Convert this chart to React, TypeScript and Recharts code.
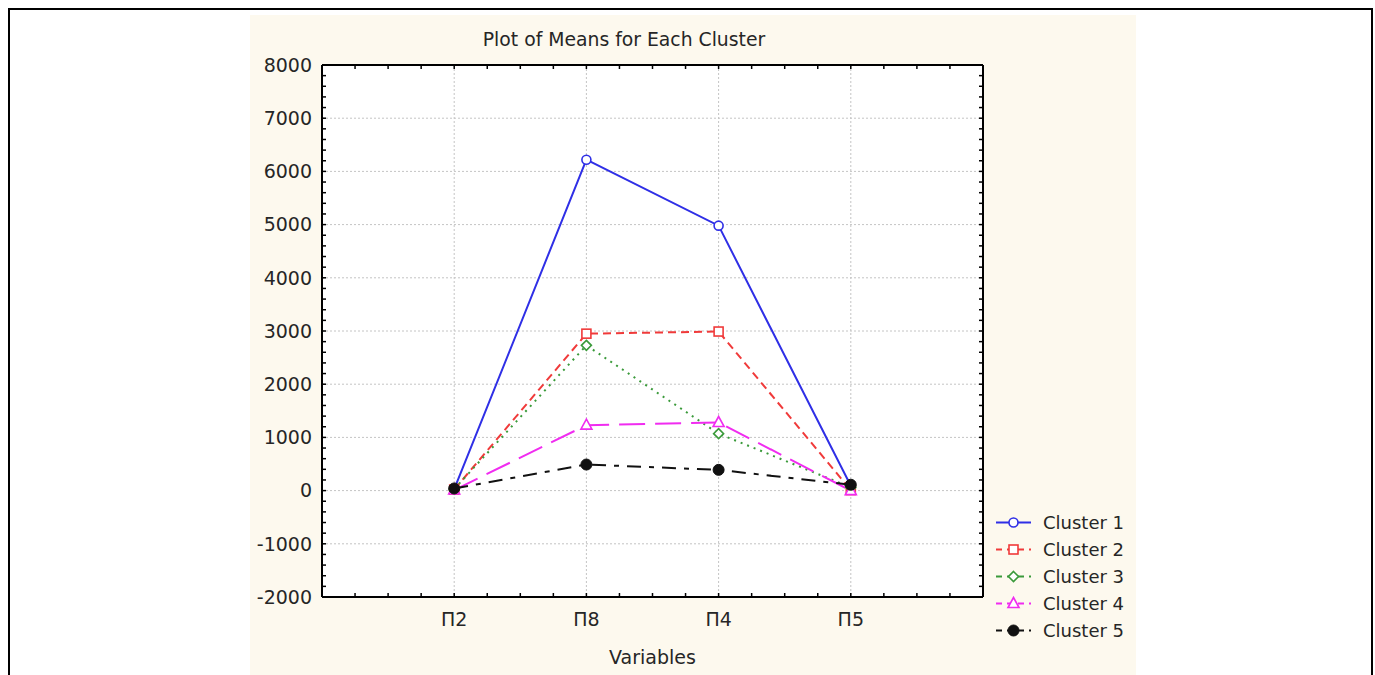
import React from "react";
import {
  LineChart,
  Line,
  XAxis,
  YAxis,
  CartesianGrid,
  Legend,
} from "recharts";

const categories = ["П2", "П8", "П4", "П5"];
const cluster1 = [30, 6220, 4980, 90];
const cluster2 = [20, 2950, 2990, 10];
const cluster3 = [30, 2730, 1070, 60];
const cluster4 = [10, 1230, 1280, 0];
const cluster5 = [40, 490, 390, 110];

const yTicks = [-2000, -1000, 0, 1000, 2000, 3000, 4000, 5000, 6000, 7000, 8000];
const xTicks = [1, 2, 3, 4];

// minor tick marks on the frame (no labels)
const xMinor = Array.from({ length: 19 }, (_, i) => (i + 1) * 0.25);
const yMinor = Array.from({ length: 49 }, (_, i) => -1800 + i * 200);

const FONT = "'DejaVu Sans', sans-serif";
const TEXT = "#262626";

type Marker = "circle" | "square" | "diamond" | "triangle" | "dot";

const series: {
  key: string;
  name: string;
  color: string;
  dash?: string;
  marker: Marker;
}[] = [
  { key: "c1", name: "Cluster 1", color: "#2f2fe6", marker: "circle" },
  { key: "c2", name: "Cluster 2", color: "#f03a3a", dash: "8 5", marker: "square" },
  { key: "c3", name: "Cluster 3", color: "#3a9a3a", dash: "2 5", marker: "diamond" },
  { key: "c4", name: "Cluster 4", color: "#f02cf0", dash: "26 10", marker: "triangle" },
  { key: "c5", name: "Cluster 5", color: "#111", dash: "14 8 5 8", marker: "dot" },
];

const data = categories.map((name, i) => ({
  pos: i + 1,
  name,
  c1: cluster1[i],
  c2: cluster2[i],
  c3: cluster3[i],
  c4: cluster4[i],
  c5: cluster5[i],
}));

function drawMarker(kind: Marker, color: string, cx: number, cy: number, key?: React.Key) {
  const sw = 1.6;
  switch (kind) {
    case "circle":
      return <circle key={key} cx={cx} cy={cy} r={4.5} fill="#fff" stroke={color} strokeWidth={sw} />;
    case "square":
      return (
        <rect key={key} x={cx - 4.5} y={cy - 4.5} width={9} height={9} fill="#fff" stroke={color} strokeWidth={sw} />
      );
    case "diamond":
      return (
        <polygon
          key={key}
          points={`${cx},${cy - 5} ${cx + 5},${cy} ${cx},${cy + 5} ${cx - 5},${cy}`}
          fill="#fff"
          stroke={color}
          strokeWidth={sw}
        />
      );
    case "triangle":
      return (
        <polygon
          key={key}
          points={`${cx},${cy - 6} ${cx + 5.5},${cy + 4} ${cx - 5.5},${cy + 4}`}
          fill="#fff"
          stroke={color}
          strokeWidth={sw}
        />
      );
    default:
      return <circle key={key} cx={cx} cy={cy} r={5.5} fill={color} stroke={color} />;
  }
}

function LegendBox() {
  return (
    <div style={{ fontFamily: FONT, fontSize: 18, color: TEXT }}>
      {series.map((s) => (
        <div key={s.key} style={{ display: "flex", alignItems: "center", height: 27 }}>
          <svg width={40} height={27} style={{ marginRight: 8 }}>
            <line x1={1} y1={13.5} x2={36} y2={13.5} stroke={s.color} strokeWidth={2} strokeDasharray={s.dash ? "6 5" : undefined} />
            {drawMarker(s.marker, s.color, 18.5, 13.5)}
          </svg>
          <span>{s.name}</span>
        </div>
      ))}
    </div>
  );
}

const noLabel = () => "";
const minorTickLine = { stroke: "#000", strokeWidth: 1.5 };

export default function App() {
  return (
    <div
      style={{
        position: "fixed",
        left: 8,
        top: 8,
        width: 1361,
        height: 700,
        border: "2px solid #000",
        background: "#fff",
      }}
    >
      <div
        style={{
          position: "absolute",
          left: 240,
          top: 5,
          width: 886,
          height: 675,
          background: "#fdf9ee",
        }}
      >
        <div
          style={{
            position: "absolute",
            left: 0,
            top: 14,
            width: 748,
            textAlign: "center",
            lineHeight: "22px",
            fontFamily: FONT,
            fontSize: 18.8,
            color: TEXT,
          }}
        >
          Plot of Means for Each Cluster
        </div>
        <LineChart
          width={886}
          height={670}
          data={data}
          margin={{ top: 50, right: 153, left: 12, bottom: 0 }}
        >
          <CartesianGrid
            xAxisId="x"
            yAxisId="y"
            fill="#fff"
            stroke="#c4c4c4"
            strokeDasharray="2 2"
          />
          <XAxis
            xAxisId="x"
            dataKey="pos"
            type="number"
            domain={[0, 5]}
            ticks={xTicks}
            interval={0}
            allowDataOverflow
            tickFormatter={(v: number) => categories[v - 1] ?? ""}
            height={88}
            tickSize={0}
            tickMargin={16}
            axisLine={{ stroke: "#000", strokeWidth: 2 }}
            tickLine={false}
            tick={{ fill: TEXT, fontSize: 19, fontFamily: FONT }}
            label={{
              value: "Variables",
              position: "insideBottom",
              offset: 21,
              fill: TEXT,
              fontSize: 19,
              fontFamily: FONT,
            }}
          />
          <XAxis
            xAxisId="xMinor"
            dataKey="pos"
            type="number"
            domain={[0, 5]}
            ticks={xMinor}
            interval={0}
            allowDataOverflow
            mirror
            height={10}
            tickSize={4}
            axisLine={false}
            tickFormatter={noLabel}
            tickLine={minorTickLine}
          />
          <XAxis
            xAxisId="xTop"
            dataKey="pos"
            orientation="top"
            type="number"
            domain={[0, 5]}
            ticks={xMinor}
            interval={0}
            allowDataOverflow
            mirror
            height={10}
            tickSize={4}
            axisLine={{ stroke: "#000", strokeWidth: 2 }}
            tickFormatter={noLabel}
            tickLine={minorTickLine}
          />
          <YAxis
            yAxisId="y"
            type="number"
            domain={[-2000, 8000]}
            ticks={yTicks}
            interval={0}
            allowDataOverflow
            width={60}
            tickSize={0}
            tickMargin={10}
            axisLine={{ stroke: "#000", strokeWidth: 2 }}
            tickLine={false}
            tick={{ fill: TEXT, fontSize: 19, fontFamily: FONT }}
          />
          <YAxis
            yAxisId="yMinor"
            type="number"
            domain={[-2000, 8000]}
            ticks={yMinor}
            interval={0}
            allowDataOverflow
            mirror
            width={10}
            tickSize={4}
            axisLine={false}
            tickFormatter={noLabel}
            tickLine={minorTickLine}
          />
          <YAxis
            yAxisId="yRight"
            orientation="right"
            type="number"
            domain={[-2000, 8000]}
            ticks={yMinor}
            interval={0}
            allowDataOverflow
            mirror
            width={10}
            tickSize={4}
            axisLine={{ stroke: "#000", strokeWidth: 2 }}
            tickFormatter={noLabel}
            tickLine={minorTickLine}
          />
          <Legend
            layout="horizontal"
            verticalAlign="middle"
            align="center"
            wrapperStyle={{ left: 745, top: 494, width: 150 }}
            content={() => <LegendBox />}
          />
          {series.map((s) => (
            <Line
              key={s.key}
              xAxisId="x"
              yAxisId="y"
              type="linear"
              dataKey={s.key}
              name={s.name}
              stroke={s.color}
              strokeWidth={2}
              strokeDasharray={s.dash}
              isAnimationActive={false}
              dot={(p: any) => drawMarker(s.marker, s.color, p.cx, p.cy, p.index)}
              activeDot={false}
            />
          ))}
        </LineChart>
      </div>
    </div>
  );
}
